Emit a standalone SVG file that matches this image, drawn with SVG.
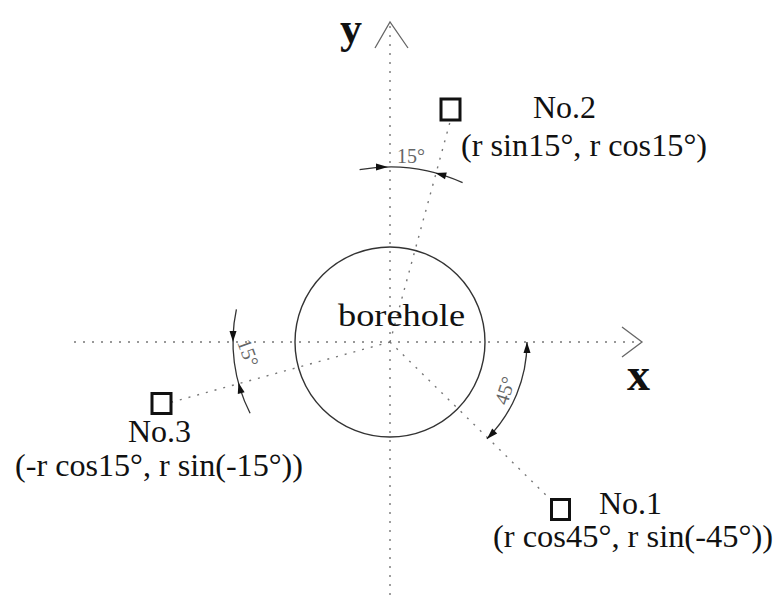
<svg xmlns="http://www.w3.org/2000/svg" width="777" height="601" viewBox="0 0 777 601">
<style>
.dot{stroke:#777;stroke-width:1.4;stroke-dasharray:2 7;fill:none}
.ax{stroke:#666;stroke-width:1.3;fill:none}
.arc{stroke:#333;stroke-width:1.3;fill:none}
.ah{fill:#111;stroke:none}
.sq{fill:#fff;stroke:#111;stroke-width:3}
.t{font-family:"Liberation Serif","Times New Roman",serif;font-size:32px;fill:#111}
.b{font-family:"Liberation Serif","Times New Roman",serif;font-weight:bold;fill:#111}
.s{font-family:"Liberation Serif","Times New Roman",serif;font-size:20px;fill:#666}
</style>
<rect width="777" height="601" fill="#fff"/>
<g id="axes">
<line class="dot" x1="74" y1="342" x2="640" y2="342"/>
<line class="dot" x1="390" y1="26" x2="390" y2="601"/>
<polyline class="ax" points="622,327 642,342 622,357"/>
<polyline class="ax" points="375,48 390,22 408,48"/>
<text class="b" x="340" y="43" font-size="44">y</text>
<text class="b" x="627" y="390" font-size="46">x</text>
</g>
<g id="connectors">
<line class="dot" x1="390" y1="342" x2="450" y2="122"/>
<line class="dot" x1="390" y1="342" x2="172" y2="402"/>
<line class="dot" x1="390" y1="342" x2="551" y2="500"/>
</g>
<g id="borehole">
<circle cx="390" cy="342" r="95" fill="none" stroke="#333" stroke-width="1.4"/>
<text class="t" x="338" y="326" font-size="36" textLength="127" lengthAdjust="spacingAndGlyphs">borehole</text>
</g>
<g id="sensor2">
<rect class="sq" x="441" y="99" width="19" height="21"/>
<text class="t" x="533" y="118">No.2</text>
<text class="t" x="461" y="156" textLength="246" lengthAdjust="spacingAndGlyphs">(r sin15°,  r cos15°)</text>
</g>
<g id="sensor3">
<rect class="sq" x="152" y="393.5" width="19" height="20"/>
<text class="t" x="128" y="442" font-size="31">No.3</text>
<text class="t" x="15" y="476" textLength="288" lengthAdjust="spacingAndGlyphs">(-r cos15°,  r sin(-15°))</text>
</g>
<g id="sensor1">
<rect class="sq" x="551.5" y="499.5" width="18" height="20"/>
<text class="t" x="599" y="514">No.1</text>
<text class="t" x="493" y="547" textLength="280" lengthAdjust="spacingAndGlyphs">(r cos45°,  r sin(-45°))</text>
</g>
<g id="angle15top">
<path class="arc" d="M359.6,169.7 A175,175 0 0 1 462.6,182.7"/>
<polygon class="ah" points="388,167 376,163.5 376,170.5"/>
<polygon class="ah" points="435.3,173 446.8,172.4 445,179.2"/>
<text class="s" x="397" y="163">15°</text>
</g>
<g id="angle15left">
<path class="arc" d="M250.1,413.3 A157,157 0 0 1 236.4,309.4"/>
<polygon class="ah" points="233,342 229.5,331 236.5,331"/>
<polygon class="ah" points="238.4,382.6 244.6,392.3 237.8,394.1"/>
<text class="s" transform="translate(237,342) rotate(70)">15°</text>
</g>
<g id="angle45">
<path class="arc" d="M527,342 A137,137 0 0 1 486.9,438.9"/>
<polygon class="ah" points="527,342 523.5,353 530.5,353"/>
<polygon class="ah" points="486.9,438.9 497.2,433.6 492.2,428.6"/>
<text class="s" transform="translate(507,406) rotate(-72)">45°</text>
</g>
</svg>
